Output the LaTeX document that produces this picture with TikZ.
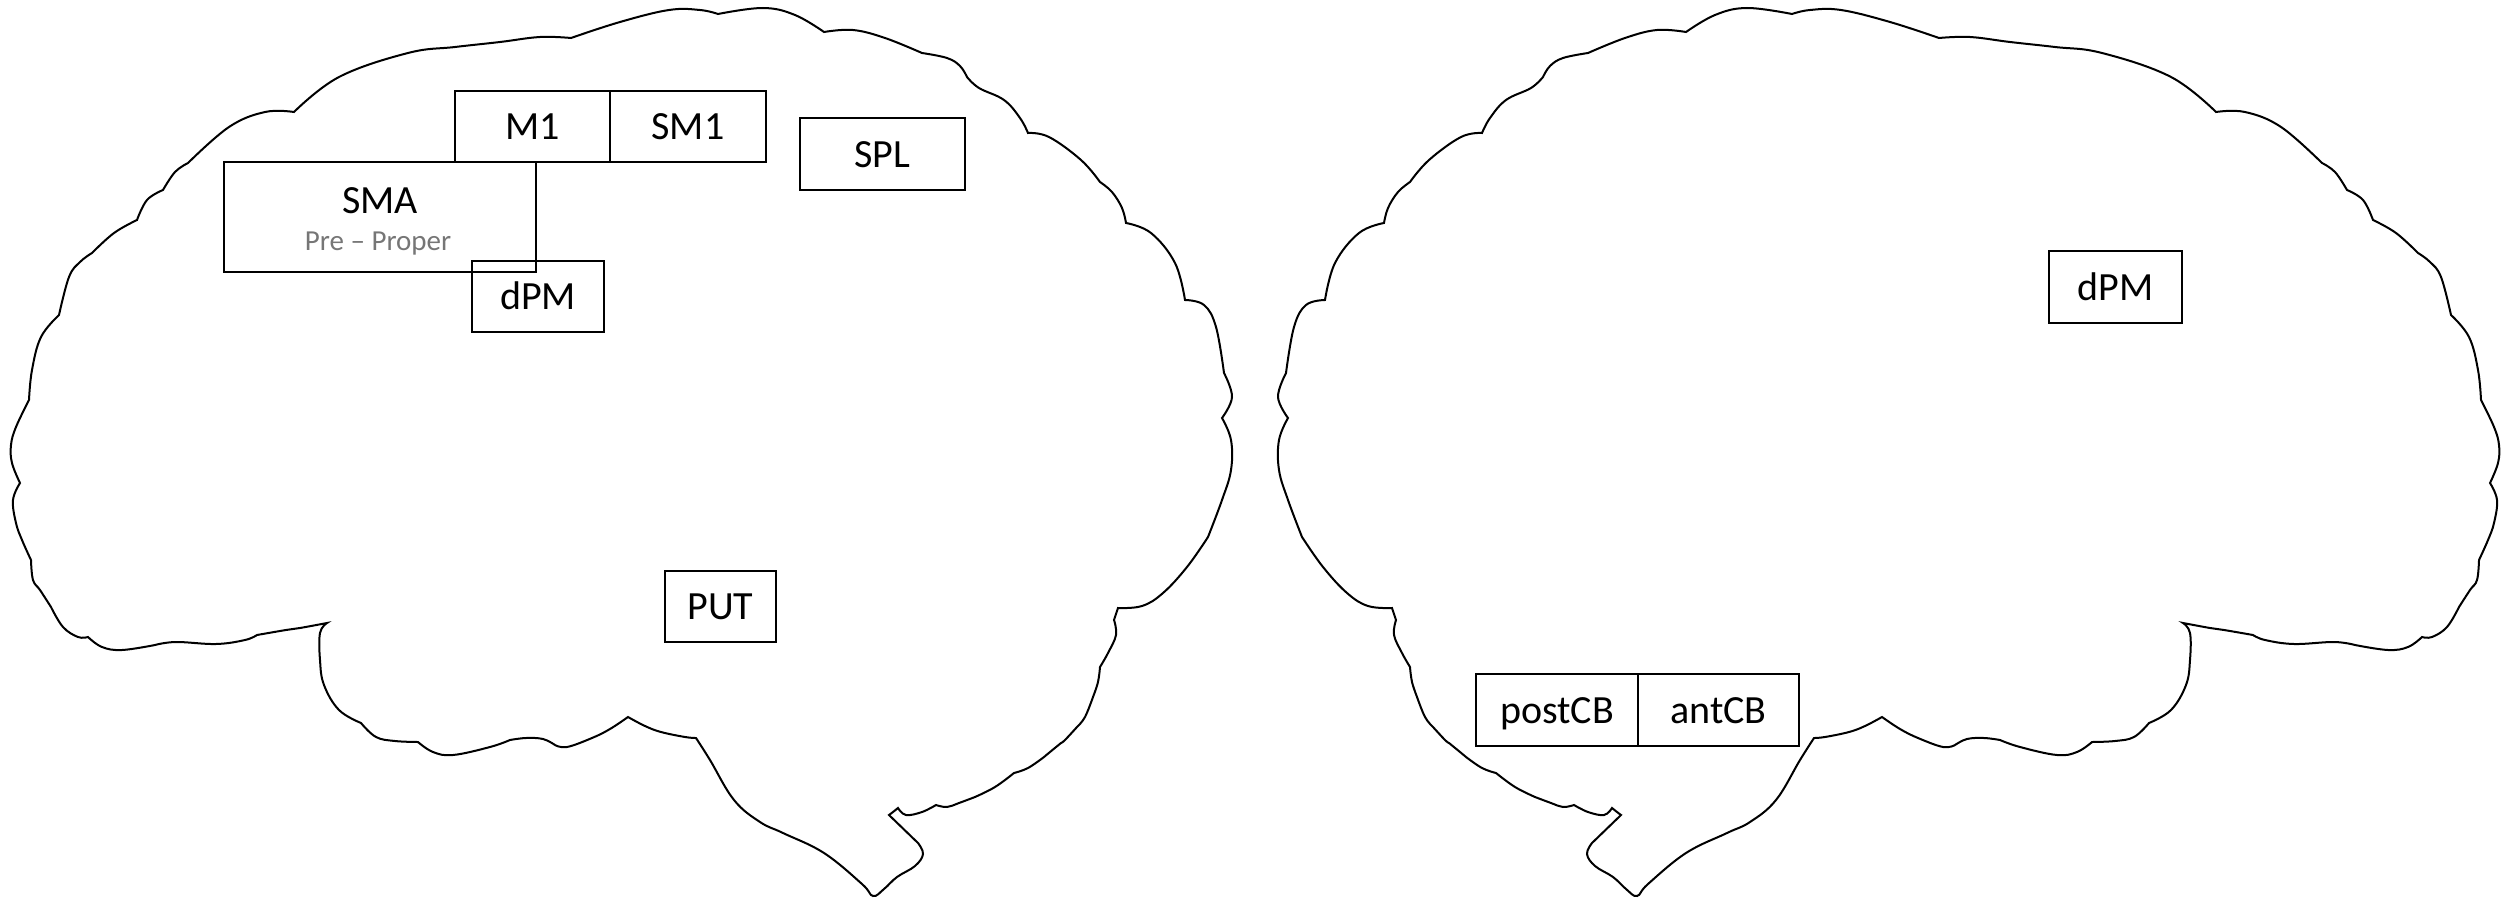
\documentclass[tikz,border=0pt]{standalone}
\usepackage{fontspec}
\setmainfont{Carlito}
\usepackage{tikz}
\definecolor{subgray}{RGB}{118,118,118}
\tikzset{every picture/.style={line width=2pt}}
\tikzset{
  region/.style={draw, rectangle, line width=2.7pt, inner sep=0pt, outer sep=0pt,
    text height=26pt, text depth=0pt, font=\fontsize{40}{48}\selectfont},
  lobe/.style={smooth, tension=0.65}
}
% outline of one hemisphere, front on the left, stem at the bottom right
\newcommand{\brainoutline}{%
  \draw plot[lobe] coordinates {(294,112) (339,77) (408,53) (455,47) (500,42) (540,37) (571,38)}
    -- plot[lobe] coordinates {(571,38) (620,22) (669,10) (700,10) (718,14)}
    -- plot[lobe] coordinates {(718,14) (763,8) (795,15) (824,32)}
    -- plot[lobe] coordinates {(824,32) (853,30) (885,38) (922,53)}
    -- plot[lobe] coordinates {(922,53) (947,58) (960,66) (967,77)}
    -- plot[lobe] coordinates {(967,77) (979,88) (1004,100) (1020,118) (1028,133)}
    -- plot[lobe] coordinates {(1028,133) (1049,137) (1081,160) (1100,182)}
    -- plot[lobe] coordinates {(1100,182) (1112,192) (1122,208) (1126,223)}
    -- plot[lobe] coordinates {(1126,223) (1151,233) (1175,263) (1185,300)}
    -- plot[lobe] coordinates {(1185,300) (1204,305) (1216,327) (1224,373)}
    -- plot[lobe] coordinates {(1224,373) (1232,397) (1222,418)}
    -- plot[lobe] coordinates {(1222,418) (1231,440) (1231,470) (1222,500) (1208,537)}
    -- plot[lobe] coordinates {(1208,537) (1187,567) (1163,593) (1142,606) (1118,608)}
    -- (1114,620)
    -- plot[lobe] coordinates {(1114,620) (1116,635) (1108,653) (1100,667)}
    -- plot[lobe] coordinates {(1100,667) (1098,682) (1093,697)}
    -- plot[lobe] coordinates {(1093,697) (1085,717) (1077,727)}
    -- plot[lobe] coordinates {(1077,727) (1065,740) (1061,743)}
    -- plot[lobe] coordinates {(1061,743) (1050,752) (1044,757)}
    -- plot[lobe] coordinates {(1044,757) (1028,768) (1014,773)}
    -- plot[lobe] coordinates {(1014,773) (995,787) (975,797)}
    -- plot[lobe] coordinates {(975,797) (959,803) (947,807) (936,805)}
    -- plot[lobe] coordinates {(936,805) (922,812) (906,815) (898,808)}
    -- plot[lobe] coordinates {(898,808) (893,812) (889,815)}
    -- (918,843)
    -- plot[lobe] coordinates {(918,843) (923,854) (915,866) (897,877) (884,889) (873,896) (862,884) (824,853) (783,833) (760,822) (734,800) (710,760) (696,738)}
    -- plot[lobe] coordinates {(696,738) (685,737) (661,732) (645,726) (628,717)}
    -- plot[lobe] coordinates {(628,717) (610,729) (592,738) (567,747) (555,745)}
    -- plot[lobe] coordinates {(555,745) (543,739) (526,738) (510,740)}
    -- plot[lobe] coordinates {(510,740) (490,747) (453,755) (433,752) (418,742)}
    -- plot[lobe] coordinates {(418,742) (395,741) (376,737) (361,723)}
    -- plot[lobe] coordinates {(361,723) (339,710) (324,685) (320,660) (320,633) (327,623)}
    -- plot[lobe] coordinates {(327,623) (300,628) (286,630) (257,635)}
    -- plot[lobe] coordinates {(257,635) (245,640) (216,644) (176,642) (155,645)}
    -- plot[lobe] coordinates {(155,645) (122,650) (102,647) (88,637)}
    -- plot[lobe] coordinates {(88,637) (78,637) (63,627) (51,607)}
    -- plot[lobe] coordinates {(51,607) (40,590) (33,580) (31,560)}
    -- plot[lobe] coordinates {(31,560) (22,540) (16,523) (13,500) (20,483)}
    -- plot[lobe] coordinates {(20,483) (12,463) (11,445) (16,427) (29,400)}
    -- plot[lobe] coordinates {(29,400) (32,370) (41,337) (59,315)}
    -- plot[lobe] coordinates {(59,315) (69,277) (80,262) (92,253)}
    -- plot[lobe] coordinates {(92,253) (114,233) (137,220)}
    -- plot[lobe] coordinates {(137,220) (147,200) (163,190)}
    -- plot[lobe] coordinates {(163,190) (175,172) (188,163)}
    -- plot[lobe] coordinates {(188,163) (229,127) (265,112) (294,112)}
    -- cycle;%
}

\begin{document}
\begin{tikzpicture}[x=1pt,y=1pt,yscale=-1,xscale=1]
\useasboundingbox (0,0) rectangle (2501,899);

%Shape: left hemisphere
\brainoutline
%Shape: right hemisphere, mirrored
\begin{scope}[xshift=2510pt, xscale=-1]
\brainoutline
\end{scope}

% Text Node
\node[region, minimum width=155pt, minimum height=71pt] (m1) at (532.5,126.5) {M1};
% Text Node
\node[region, minimum width=156pt, minimum height=71pt] (sm1) at (688,126.5) {SM1};
% Text Node
\node[region, minimum width=165pt, minimum height=72pt] (spl) at (882.5,154) {SPL};
% Text Node
\node[region, minimum width=312pt, minimum height=110pt] (sma) at (380,217) {};
\node[anchor=base, font=\fontsize{40}{48}\selectfont] (smaname) at (380,213) {SMA};
\node[anchor=base, font=\fontsize{29}{35}\selectfont, text=subgray] (smasub) at (378,250) {Pre – Proper};
% Text Node
\node[region, minimum width=132pt, minimum height=71pt] (dpmleft) at (538,296.5) {dPM};
% Text Node
\node[region, minimum width=111pt, minimum height=71pt] (put) at (720.5,606.5) {PUT};

% Text Node
\node[region, minimum width=133pt, minimum height=72pt] (dpmright) at (2115.5,287) {dPM};
% Text Node
\node[region, minimum width=162pt, minimum height=72pt] (postcb) at (1557,710) {postCB};
% Text Node
\node[region, minimum width=161pt, minimum height=72pt] (antcb) at (1718.5,710) {antCB};

\end{tikzpicture}
\end{document}
